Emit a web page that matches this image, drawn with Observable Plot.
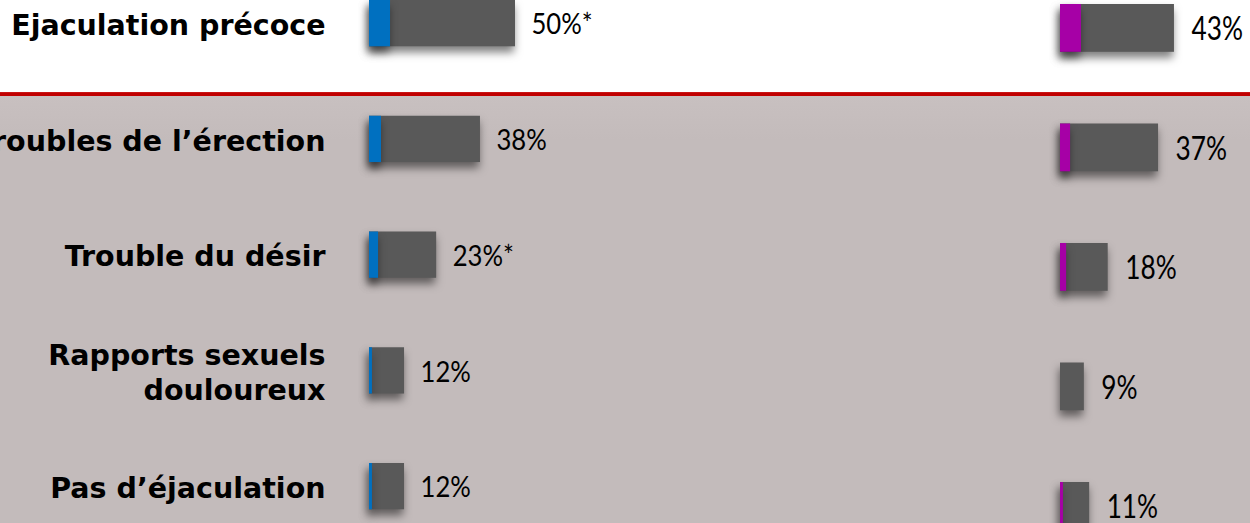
<!DOCTYPE html>
<html>
<head>
<meta charset="utf-8">
<script src="https://cdn.jsdelivr.net/npm/d3@7"></script>
<script src="https://cdn.jsdelivr.net/npm/@observablehq/plot@0.6"></script>
<style>
  html, body { margin: 0; padding: 0; background: #c3bbbb; }
  #chart {
    position: relative; width: 1250px; height: 523px; overflow: hidden;
    background: linear-gradient(to bottom, #ffffff 0px, #ffffff 92px, #d22a2a 92px, #c00000 93px, #c00000 96px, #c8c0c0 96px, #c3bbbb 140px, #c3bbbb 523px);
  }
  #chart svg { position: absolute; left: 0; top: 0; }
</style>
</head>
<body>
<div id="chart"></div>
<script>
// ---- data ----
const categories = ["Ejaculation précoce", "Troubles de l’érection", "Trouble du désir", "Rapports sexuels\ndouloureux", "Pas d’éjaculation"];
const leftValues = [50, 38, 23, 12, 12];
const leftLabels = ["50%*", "38%", "23%*", "12%", "12%"];
const leftAccent = [7.2, 4.1, 3.1, 1.0, 1.0];
const rightValues = [43, 37, 18, 9, 11];
const rightLabels = ["43%", "37%", "18%", "9%", "11%"];
const rightAccent = [7.9, 3.8, 2.3, 0, 1.1];

const leftRows = categories.map((c, i) => ({cat: c, value: leftValues[i], accent: leftAccent[i], label: leftLabels[i]}));
const rightRows = categories.map((c, i) => ({cat: c, value: rightValues[i], accent: rightAccent[i], label: rightLabels[i]}));

const valueFont = "Lato, 'Open Sans', sans-serif";
const catFont = "'DejaVu Sans', Verdana, sans-serif";

const left = Plot.plot({
  width: 1250, height: 523,
  marginTop: 0, marginBottom: 0, marginLeft: 0, marginRight: 0,
  style: {background: "transparent"},
  x: {domain: [0, 100], range: [369, 661], axis: null},
  y: {domain: categories, range: [0, 509.3], paddingInner: 0.6, paddingOuter: 0, align: 0, round: false, axis: null},
  marks: [
    Plot.barX(leftRows, {x: "value", y: "cat", fill: "#595959"}),
    Plot.barX(leftRows, {x: "accent", y: "cat", fill: "#0070c0"}),
    Plot.text(leftRows, {x: "value", y: "cat", text: "label", dx: 16, dy: 1.5, textAnchor: "start",
      fontSize: 28.5, fontFamily: valueFont, fill: "#000"}),
    Plot.text(leftRows, {y: "cat", text: "cat", frameAnchor: "left", dx: 325, dy: 0, textAnchor: "end",
      fontSize: 28.5, fontWeight: "bold", fontFamily: catFont, lineHeight: 1.23, fill: "#000"})
  ]
});

const right = Plot.plot({
  width: 1250, height: 523,
  marginTop: 0, marginBottom: 0, marginLeft: 0, marginRight: 0,
  style: {background: "transparent"},
  x: {domain: [0, 100], range: [1060, 1325], axis: null},
  y: {domain: categories, range: [4, 529.8], paddingInner: 0.6, paddingOuter: 0, align: 0, round: false, axis: null},
  marks: [
    Plot.barX(rightRows, {x: "value", y: "cat", fill: "#595959"}),
    Plot.barX(rightRows, {x: "accent", y: "cat", fill: "#a600a6"}),
    Plot.text(rightRows, {x: "value", y: "cat", text: "label", dx: 17, dy: 1.5, textAnchor: "start",
      fontSize: 32, fontFamily: valueFont, fill: "#000"})
  ]
});

const chart = document.getElementById("chart");
chart.appendChild(left);
chart.appendChild(right);
for (const svg of [left, right]) {
  d3.select(svg).selectAll('g[aria-label="bar"]')
    .style("filter", "drop-shadow(-1px 6px 4px rgba(0,0,0,0.5))");
}
// condense the value labels horizontally (the original uses a narrow face)
function condense(svg, factor) {
  const g = svg.querySelectorAll('g[aria-label="text"]')[0]; // first text mark = value labels
  if (!g) return;
  g.querySelectorAll("text").forEach(el => {
    const w = el.getComputedTextLength();
    if (w > 0) {
      el.setAttribute("textLength", (w * factor).toFixed(1));
      el.setAttribute("lengthAdjust", "spacingAndGlyphs");
    }
  });
}
condense(left, 0.9);
condense(right, 0.82);
</script>
</body>
</html>
